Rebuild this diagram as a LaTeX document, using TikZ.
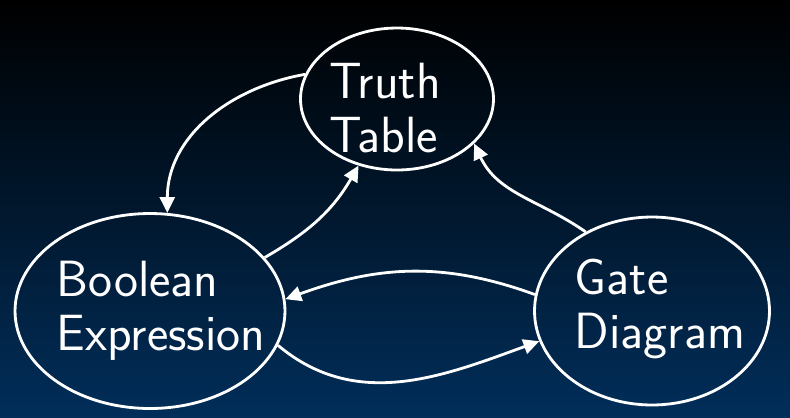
\documentclass[tikz,border=0pt]{standalone}
\usepackage{tikz}
\usetikzlibrary{arrows.meta,shapes.geometric}
\definecolor{navybottom}{RGB}{1,46,90}

\begin{document}
\begin{tikzpicture}[x=0.02cm, y=-0.02cm, >={Triangle[length=9pt,width=8.5pt]},
    blob/.style={draw=white, line width=1.6pt, ellipse, inner sep=0pt},
    word/.style={text=white, font=\sffamily\fontsize{29}{31}\selectfont, align=left, inner sep=0pt},
    link/.style={draw=white, line width=1.6pt, ->}]
    %% Background
    \shade[top color=black, bottom color=navybottom] (0,0) rectangle (790,417);
    \useasboundingbox (0,0) rectangle (790,417);

    %% Blobs
    \node[blob, minimum width=3.86cm, minimum height=2.84cm] (tt) at (397,99) {};
    \node[blob, minimum width=5.4cm, minimum height=3.9cm] (be) at (150,311) {};
    \node[blob, minimum width=4.7cm, minimum height=3.76cm] (gd) at (652,311) {};

    %% Words
    \node[word] (ttw) at (385,108) {Truth\\Table};
    \node[word] (bew) at (161,311) {Boolean\\Expression};
    \node[word] (gdw) at (660,309) {Gate\\Diagram};

    %% Arrows
    \draw[link] (tt.165) to[out=190, in=90] (be.80);
    \draw[link] (be.25) to[out=30, in=240] (tt.240);
    \draw[link] (gd.130) to[out=145, in=295] (tt.330);
    \draw[link] (gd.172) to[out=160, in=20] (be.5);
    \draw[link] (be.-15) to[out=-40, in=200] (gd.195);

\end{tikzpicture}
\end{document}
